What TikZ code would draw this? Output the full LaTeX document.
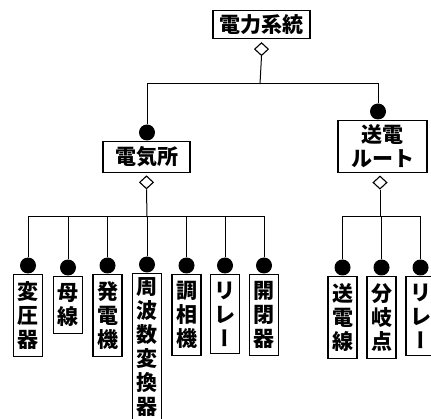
\documentclass[tikz,border=0pt]{standalone}
\usepackage{fontspec}
\newfontfamily\jp{Noto Sans CJK JP}
\newfontfamily\jpv{Noto Sans CJK JP}[RawFeature=+vert]
\usetikzlibrary{shapes.geometric}
\begin{document}
\begin{tikzpicture}[x=1pt,y=-1pt,line width=1pt,
  box/.style={draw,line width=1.1pt,font=\jp\bfseries\fontsize{21}{24}\selectfont,align=center},
  kid/.style={box,anchor=north,inner xsep=3.5pt,inner ysep=7pt,minimum width=29pt},
  ball/.style={circle,fill,inner sep=0pt,minimum size=16pt,anchor=south},
  dia/.style={diamond,draw,fill=white,line width=1.1pt,inner sep=0pt,minimum width=14pt,minimum height=13pt,anchor=north}]
\useasboundingbox (0,0) rectangle (431,419);
\clip (0,0) rectangle (431,419);
% top level
\node[box,inner xsep=6.5pt,inner ysep=4pt] (top) at (261.5,24.5) {電力系統};
\node[dia] (dtop) at ([yshift=-3pt]top.south) {};
\node[box,inner xsep=12pt,inner ysep=5.5pt] (den) at (146.5,157) {電気所};
\node[box,inner xsep=13pt,inner ysep=4pt] (rt) at (382.5,146.5) {送電\\ルート};
\node[ball] (bden) at (147,141) {};
\node[ball] (brt) at (378,120) {};
\coordinate (j0) at (260,84);
\draw (dtop.south) -- (j0);
\draw (bden.north) |- (j0);
\draw (brt.north) |- (j0);
% lower diamonds
\node[dia] (dden) at ([yshift=-2pt]den.south) {};
\node[dia] (drt) at (380,175.5) {};
\coordinate (hL) at (147,217);
\coordinate (hR) at (381,217);
\draw (dden.south) -- (hL);
\draw (drt.south) |- (hR);
% left children
\node[kid] (c1) at (28,274) {変\\圧\\器};
\node[kid] (c2) at (68,276) {母\\線};
\node[kid] (c3) at (107.5,274) {発\\電\\機};
\node[kid,inner ysep=4pt] (c4) at (147,273) {周\\波\\数\\変\\換\\器};
\node[kid] (c5) at (186.5,274) {調\\相\\機};
\node[kid] (c6) at (225,274) {リ\\レ\\{\jpv ー}};
\node[kid] (c7) at (264,274) {開\\閉\\器};
\foreach \i in {1,...,7}{
  \node[ball] (b\i) at (c\i.north) {};
  \draw (b\i.north) |- (hL);
}
% right children
\node[kid] (r1) at (342.5,276) {送\\電\\線};
\node[kid] (r2) at (381.5,276) {分\\岐\\点};
\node[kid] (r3) at (420.5,276) {リ\\レ\\{\jpv ー}};
\foreach \i in {1,2,3}{
  \node[ball] (rb\i) at (r\i.north) {};
  \draw (rb\i.north) |- (hR);
}
\end{tikzpicture}
\end{document}
